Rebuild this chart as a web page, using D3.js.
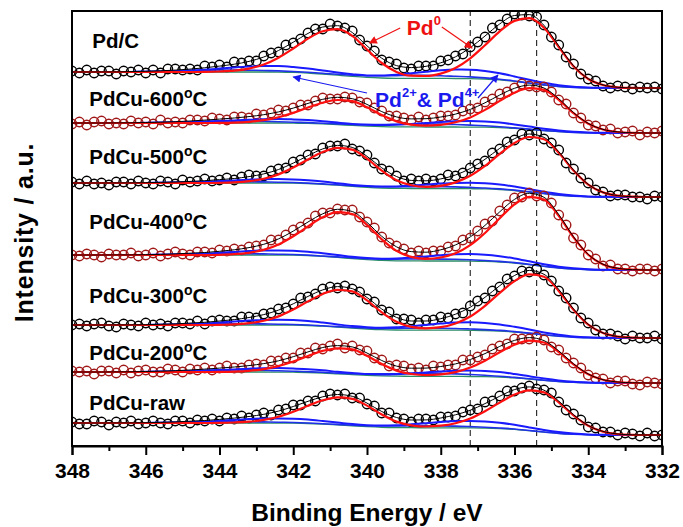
<!DOCTYPE html>
<html>
<head>
<meta charset="utf-8">
<script src="https://cdn.jsdelivr.net/npm/d3@7"></script>
<style>
  body { margin: 0; background: #fff; }
  text { font-family: Arial, "Liberation Sans", Helvetica, sans-serif; font-weight: bold; }
</style>
</head>
<body>
<svg id="chart" width="683" height="527"></svg>
<script>
// Pd 3d XPS spectra: measured counts every 0.2 eV, fitted components every 0.4 eV (348 -> 332 eV)
const energyStart = 348, energyEnd = 332;
const pointStep = 0.2, fitStep = 0.4;

const sampleNames = ["Pd/C", "PdCu-600", "PdCu-500", "PdCu-400", "PdCu-300", "PdCu-200", "PdCu-raw"];
const sampleHasDegree = [false, true, true, true, true, true, false];

// measured intensity (a.u., stacked)
const countsPdC = [375,373,376,373,375,375,372,375,374,376,373,376,373,377,377,376,377,376,380,379,381,379,384,383,385,385,390,393,394,401,403,407,413,417,417,422,420,418,415,406,400,395,386,384,382,378,377,380,380,380,385,386,390,392,399,404,409,418,421,427,432,431,430,429,421,409,401,389,382,372,367,365,360,358,360,359,357,359,358,359,357];
const counts600 = [322,324,321,324,325,322,323,322,325,323,324,322,326,323,324,323,326,326,325,328,327,326,329,329,328,332,331,333,336,335,338,341,341,345,348,347,347,349,348,344,343,338,335,330,330,328,326,329,326,328,330,330,331,335,337,338,344,347,352,354,358,362,360,359,359,354,346,342,333,328,321,320,316,317,313,314,315,311,314,313,315];
const counts500 = [264,262,265,262,263,261,264,264,262,265,263,262,265,264,262,266,264,265,267,265,266,268,266,269,271,270,270,275,277,278,284,286,291,292,298,300,300,302,297,295,291,283,277,275,270,265,267,265,267,265,267,271,270,273,278,282,285,293,297,304,306,312,311,313,307,303,296,283,277,268,263,256,254,250,251,251,249,249,247,250,249];
const counts400 = [191,190,192,191,189,192,191,191,193,190,191,193,190,192,194,192,191,194,194,193,196,195,197,196,199,200,201,206,206,211,216,219,223,230,233,233,237,236,236,229,224,218,209,203,200,197,193,195,193,195,195,199,200,206,208,215,222,225,235,241,248,249,253,250,250,243,231,221,208,201,191,187,180,181,177,177,175,177,177,175,177];
const counts300 = [121,122,120,122,123,120,119,122,121,120,123,121,122,120,123,123,122,125,122,125,126,125,125,129,129,128,132,133,137,138,142,148,149,152,157,159,158,160,157,154,147,144,136,134,127,127,126,123,126,126,129,128,132,133,140,145,148,155,159,167,170,175,174,177,171,165,155,148,138,128,123,116,112,112,110,107,110,108,108,110,107];
const counts200 = [75,74,75,72,75,75,73,76,73,75,76,74,74,77,76,74,77,76,78,76,78,80,78,78,81,82,81,85,85,88,88,93,93,98,97,100,102,98,100,96,95,88,86,80,81,80,77,78,76,80,79,81,81,86,86,89,91,97,100,102,107,107,107,109,106,99,96,88,83,78,71,68,67,63,65,65,62,61,64,63,62];
const countsRaw = [24,22,22,25,24,21,24,23,25,22,23,25,23,22,25,25,23,26,25,27,25,28,27,30,28,31,33,31,36,37,41,41,45,45,50,52,51,52,48,48,42,40,33,33,28,27,24,27,27,26,29,29,30,34,36,37,44,45,50,55,55,58,60,57,56,53,44,36,32,26,19,18,14,14,11,13,12,10,13,10,11];

// Shirley background
const basePdC = [374,374,374,374,374,374,374,374,374,374,374,374,374.0,374.0,373.9,373.6,373.0,372.0,370.8,369.6,368.6,368.0,367.7,367.6,367.6,367.6,367.5,367.4,367.0,366.1,364.6,362.8,361.0,359.5,358.6,358.2,358.1,358,358,358,358];
const base600 = [323,323,323,323,323,323,323,323,323,323,323,323,323,323.0,323.0,322.8,322.6,322.1,321.4,320.6,319.9,319.4,319.2,319.1,319.0,319.0,319.0,318.9,318.8,318.4,317.6,316.6,315.4,314.4,313.6,313.2,313.1,313.0,313,313,313];
const base500 = [263,263,263,263,263,263,263,263,263,263,263,263,263,263.0,262.9,262.8,262.4,261.7,260.8,259.6,258.7,258.0,257.6,257.5,257.4,257.4,257.4,257.3,257.1,256.5,255.5,254.0,252.4,250.9,249.9,249.3,249.1,249.0,249,249,249];
const base400 = [191,191,191,191,191,191,191,191,191,191,191,191,191,191.0,190.9,190.8,190.4,189.6,188.6,187.4,186.4,185.6,185.2,185.1,185.0,185.0,185.0,184.9,184.6,184.0,183.0,181.4,179.6,178.0,177.0,176.4,176.1,176.0,176,176,176];
const base300 = [121,121,121,121,121,121,121,121,121,121,121,121,121,121.0,120.9,120.8,120.5,119.8,118.9,117.9,117.0,116.3,116.0,115.9,115.8,115.8,115.8,115.7,115.5,115.0,114.0,112.7,111.1,109.8,108.8,108.3,108.1,108.0,108,108,108];
const base200 = [74,74,74,74,74,74,74,74,74,74,74,74,74,74.0,73.9,73.8,73.5,73.0,72.2,71.4,70.6,70.1,69.8,69.7,69.6,69.6,69.6,69.5,69.3,68.9,68.1,67.0,65.7,64.5,63.7,63.3,63.1,63.0,63,63,63];
const baseRaw = [23,23,23,23,23,23,23,23,23,23,23,23,23,23.0,22.9,22.8,22.5,21.9,21.1,20.1,19.3,18.7,18.4,18.3,18.2,18.2,18.2,18.1,17.9,17.4,16.6,15.3,13.9,12.6,11.8,11.3,11.1,11.0,11,11,11];

// Pd0 doublet (3d5/2 + 3d3/2) above background
const pd0PdC = [0,0,0,0,0,0,0,0,0,0.1,0.5,1.3,3.4,7.5,14.4,23.9,34.4,42.8,46.0,40.6,27.9,15.0,6.4,2.7,2.4,4.8,10.6,20.3,33.8,48.6,60.5,65.0,57.3,39.5,21.1,8.8,2.9,0.7,0.1,0,0];
const pd0600 = [0,0,0,0,0,0,0,0,0,0,0.1,0.4,1.2,2.8,5.8,10.3,15.9,21.2,24.6,24.2,18.9,11.5,5.4,2.2,1.3,2.1,4.7,9.7,17.3,26.7,35.7,41.2,40.7,31.7,19.2,9.1,3.4,1.0,0.2,0,0];
const pd0500 = [0,0,0,0,0,0,0,0,0,0,0.2,0.6,1.8,4.2,8.7,15.6,24.1,32.3,37.3,36.8,28.7,17.4,8.2,3.3,1.8,2.8,6.2,12.9,23.0,35.6,47.5,55.0,54.3,42.3,25.6,12.1,4.5,1.3,0.3,0,0];
const pd0400 = [0,0,0,0,0,0,0,0,0,0,0.2,0.8,2.2,5.1,10.6,18.9,29.2,39.1,45.2,44.6,34.7,21.1,9.9,4.0,2.2,3.5,7.7,15.9,28.4,43.8,58.6,67.8,66.9,52.1,31.6,14.9,5.5,1.6,0.3,0,0];
const pd0300 = [0,0,0,0,0,0,0,0,0,0,0.2,0.6,1.8,4.2,8.7,15.6,24.1,32.3,37.3,36.8,28.7,17.4,8.2,3.3,1.9,3.0,6.7,13.8,24.7,38.1,50.9,58.9,58.1,45.3,27.5,13.0,4.8,1.4,0.3,0,0];
const pd0200 = [0,0,0,0,0,0,0,0,0,0,0.1,0.4,1.2,2.9,6.0,10.7,16.5,22.1,25.5,25.2,19.6,11.9,5.6,2.3,1.3,2.0,4.3,9.0,16.0,24.8,33.1,38.3,37.8,29.4,17.9,8.4,3.1,0.9,0.2,0,0];
const pd0Raw = [0,0,0,0,0,0,0,0,0,0,0.1,0.5,1.3,3.1,6.4,11.5,17.8,23.8,27.5,27.1,21.1,12.8,6.0,2.4,1.3,2.1,4.6,9.4,16.9,26.0,34.8,40.3,39.7,31.0,18.8,8.9,3.3,0.9,0.2,0,0];

// Pd2+ doublet above background
const pd2PdC = [0,0,0,0,0.1,0.2,0.4,0.8,1.4,2.3,3.4,4.5,5.4,6.0,6.0,5.4,4.5,3.5,2.6,2.1,2.0,2.6,3.6,5.1,6.7,8.1,8.9,8.9,8.1,6.7,5.0,3.4,2.2,1.2,0.6,0.3,0.1,0,0,0,0];
const pd2600 = [0,0,0,0,0,0.1,0.2,0.4,0.7,1.2,1.9,2.6,3.3,3.8,4.0,3.8,3.3,2.7,2.0,1.5,1.3,1.5,2.0,2.9,4.0,5.0,5.7,6.0,5.7,5.0,3.9,2.8,1.8,1.1,0.6,0.3,0.1,0.1,0,0,0];
const pd2500 = [0,0,0,0,0,0.1,0.2,0.4,0.7,1.2,1.9,2.6,3.3,3.8,4.0,3.8,3.3,2.7,2.0,1.5,1.3,1.5,2.0,2.9,4.0,5.0,5.7,6.0,5.7,5.0,3.9,2.8,1.8,1.1,0.6,0.3,0.1,0.1,0,0,0];
const pd2400 = [0,0,0,0,0,0.1,0.2,0.5,0.9,1.4,2.2,3.1,3.9,4.5,4.7,4.5,3.9,3.1,2.4,1.8,1.5,1.7,2.4,3.4,4.6,5.8,6.7,7.0,6.7,5.8,4.6,3.3,2.1,1.3,0.7,0.3,0.2,0.1,0,0,0];
const pd2300 = [0,0,0,0,0,0.1,0.3,0.5,1.0,1.6,2.5,3.5,4.4,5.1,5.4,5.1,4.5,3.6,2.7,2.0,1.8,2.0,2.7,3.9,5.3,6.6,7.6,8.0,7.6,6.6,5.2,3.8,2.4,1.5,0.8,0.4,0.2,0.1,0,0,0];
const pd2200 = [0,0,0,0,0,0.1,0.2,0.4,0.7,1.2,1.9,2.6,3.3,3.8,4.0,3.8,3.3,2.7,2.0,1.5,1.3,1.5,2.0,2.9,4.0,5.0,5.7,6.0,5.7,5.0,3.9,2.8,1.8,1.1,0.6,0.3,0.1,0.1,0,0,0];
const pd2Raw = [0,0,0,0,0,0.1,0.2,0.5,0.9,1.4,2.2,3.1,3.9,4.5,4.7,4.5,3.9,3.1,2.4,1.8,1.5,1.7,2.4,3.4,4.6,5.8,6.7,7.0,6.7,5.8,4.6,3.3,2.1,1.3,0.7,0.3,0.2,0.1,0,0,0];

// Pd4+ doublet above background
const pd4PdC = [0,0,0.1,0.1,0.3,0.5,0.8,1.1,1.5,1.8,2.0,2.0,1.8,1.5,1.2,0.9,0.7,0.7,0.9,1.2,1.7,2.2,2.7,3.0,3.0,2.7,2.2,1.7,1.1,0.7,0.4,0.2,0.1,0,0,0,0,0,0,0,0];
const pd4600 = [0,0,0,0.1,0.2,0.4,0.6,0.9,1.3,1.7,1.9,2.0,1.9,1.7,1.3,1.0,0.8,0.7,0.7,1.0,1.5,2.0,2.5,2.9,3.0,2.9,2.5,2.0,1.4,0.9,0.5,0.3,0.1,0.1,0,0,0,0,0,0,0];
const pd4500 = [0,0,0,0.1,0.1,0.2,0.4,0.6,0.9,1.1,1.3,1.3,1.3,1.1,0.9,0.7,0.5,0.4,0.5,0.7,1.0,1.3,1.7,1.9,2.0,1.9,1.7,1.3,0.9,0.6,0.4,0.2,0.1,0,0,0,0,0,0,0,0];
const pd4400 = [0,0,0,0.1,0.1,0.2,0.4,0.6,0.9,1.1,1.3,1.3,1.3,1.1,0.9,0.7,0.5,0.4,0.5,0.7,1.0,1.3,1.7,1.9,2.0,1.9,1.7,1.3,0.9,0.6,0.4,0.2,0.1,0,0,0,0,0,0,0,0];
const pd4300 = [0,0,0,0.1,0.1,0.2,0.4,0.6,0.9,1.1,1.3,1.3,1.3,1.1,0.9,0.7,0.5,0.4,0.5,0.7,1.0,1.3,1.7,1.9,2.0,1.9,1.7,1.3,0.9,0.6,0.4,0.2,0.1,0,0,0,0,0,0,0,0];
const pd4200 = [0,0,0,0.1,0.2,0.4,0.6,0.9,1.3,1.7,1.9,2.0,1.9,1.7,1.3,1.0,0.8,0.7,0.7,1.0,1.5,2.0,2.5,2.9,3.0,2.9,2.5,2.0,1.4,0.9,0.5,0.3,0.1,0.1,0,0,0,0,0,0,0];
const pd4Raw = [0,0,0,0.1,0.1,0.2,0.4,0.6,0.9,1.1,1.3,1.3,1.3,1.1,0.9,0.7,0.5,0.4,0.5,0.7,1.0,1.3,1.7,1.9,2.0,1.9,1.7,1.3,0.9,0.6,0.4,0.2,0.1,0,0,0,0,0,0,0,0];

// reference binding energies marked with dashed lines
const referenceEnergies = [337.2, 335.4];
const majorTicks = [348, 346, 344, 342, 340, 338, 336, 334, 332];
const minorTicks = [347, 345, 343, 341, 339, 337, 335, 333];

const counts = [countsPdC, counts600, counts500, counts400, counts300, counts200, countsRaw];
const baselines = [basePdC, base600, base500, base400, base300, base200, baseRaw];
const pd0 = [pd0PdC, pd0600, pd0500, pd0400, pd0300, pd0200, pd0Raw];
const pd2 = [pd2PdC, pd2600, pd2500, pd2400, pd2300, pd2200, pd2Raw];
const pd4 = [pd4PdC, pd4600, pd4500, pd4400, pd4300, pd4200, pd4Raw];

// layout
const W = 683, H = 527;
const plot = { left: 72, right: 662, top: 11, bottom: 446 };
const pointColors = ["#000000", "#a01818", "#000000", "#a01818", "#000000", "#a01818", "#000000"];
const labelPos = [[347.45, 398], [347.53, 340], [347.53, 282], [347.53, 217], [347.53, 143], [347.53, 86], [347.53, 36]];

const x = d3.scaleLinear().domain([energyStart, energyEnd]).range([plot.left, plot.right]);
const y = d3.scaleLinear().domain([0, 435]).range([plot.bottom, plot.top]);

const svg = d3.select("#chart");
svg.append("rect").attr("width", W).attr("height", H).attr("fill", "#fff");

const defs = svg.append("defs");
defs.append("clipPath").attr("id", "plotClip")
  .append("rect").attr("x", plot.left).attr("y", plot.top)
  .attr("width", plot.right - plot.left).attr("height", plot.bottom - plot.top);

function arrowMarker(id, color) {
  defs.append("marker").attr("id", id)
    .attr("viewBox", "0 0 10 10").attr("refX", 9).attr("refY", 5)
    .attr("markerWidth", 9).attr("markerHeight", 8)
    .attr("markerUnits", "userSpaceOnUse").attr("orient", "auto")
    .append("path").attr("d", "M0,0 L10,5 L0,10 Z").attr("fill", color);
}
arrowMarker("arrowRed", "#ee1111");
arrowMarker("arrowBlue", "#1a1aee");

const g = svg.append("g").attr("clip-path", "url(#plotClip)");

// dashed reference lines
g.selectAll("line.ref").data(referenceEnergies).join("line")
  .attr("class", "ref")
  .attr("x1", d => x(d)).attr("x2", d => x(d))
  .attr("y1", y(0)).attr("y2", y(435))
  .attr("stroke", "#222").attr("stroke-width", 1.1).attr("stroke-dasharray", "6,4");

const pointEnergy = i => energyStart - pointStep * i;
const fitEnergy = i => energyStart - fitStep * i;

const fitLine = d3.line().x(d => x(d[0])).y(d => y(d[1])).curve(d3.curveMonotoneX);

counts.forEach((series, s) => {
  const base = baselines[s];
  const layer = g.append("g");

  // measured points
  layer.selectAll("circle").data(series).join("circle")
    .attr("cx", (d, i) => x(pointEnergy(i)))
    .attr("cy", d => y(d))
    .attr("r", 4.7)
    .attr("fill", "none")
    .attr("stroke", pointColors[s])
    .attr("stroke-width", 1.4);

  const bgPts = base.map((b, i) => [fitEnergy(i), b]);
  const pd2Pts = base.map((b, i) => [fitEnergy(i), b + pd2[s][i]]);
  const pd4Pts = base.map((b, i) => [fitEnergy(i), b + pd4[s][i]]);
  const pd0Pts = base.map((b, i) => [fitEnergy(i), b + pd0[s][i]]);
  const envPts = base.map((b, i) => [fitEnergy(i), b + pd0[s][i] + pd2[s][i] + pd4[s][i]]);

  layer.append("path").attr("d", fitLine(bgPts))
    .attr("fill", "none").attr("stroke", "#2b8c6a").attr("stroke-width", 1.3);
  layer.append("path").attr("d", fitLine(pd4Pts))
    .attr("fill", "none").attr("stroke", "#2030e8").attr("stroke-width", 1.6);
  layer.append("path").attr("d", fitLine(pd2Pts))
    .attr("fill", "none").attr("stroke", "#1a1aff").attr("stroke-width", 2);
  layer.append("path").attr("d", fitLine(pd0Pts))
    .attr("fill", "none").attr("stroke", "#ff1010").attr("stroke-width", 2.2);
  layer.append("path").attr("d", fitLine(envPts))
    .attr("fill", "none").attr("stroke", "#000").attr("stroke-width", 1);
});

// sample labels
sampleNames.forEach((name, s) => {
  const t = svg.append("text")
    .attr("x", x(labelPos[s][0])).attr("y", y(labelPos[s][1]))
    .style("font-size", "20.5px").attr("fill", "#000");
  t.append("tspan").text(name);
  if (sampleHasDegree[s]) {
    t.append("tspan").text("o").style("font-size", "14px").attr("dy", -8);
    t.append("tspan").text("C").attr("dy", 8);
  }
});

// component annotations
const pd0Label = svg.append("text")
  .attr("x", x(338.92)).attr("y", y(411))
  .style("font-size", "21px").attr("fill", "#ee1111");
pd0Label.append("tspan").text("Pd");
pd0Label.append("tspan").text("0").style("font-size", "13px").attr("dy", -10);

const oxLabel = svg.append("text")
  .attr("x", x(339.78)).attr("y", y(339))
  .style("font-size", "21px").attr("fill", "#1a1aee");
oxLabel.append("tspan").text("Pd");
oxLabel.append("tspan").text("2+").style("font-size", "13px").attr("dy", -10);
oxLabel.append("tspan").text("& Pd").attr("dy", 10);
oxLabel.append("tspan").text("4+").style("font-size", "13px").attr("dy", -10);

const arrows = [
  { from: [339.10, 418], to: [339.93, 403], color: "#ee1111", marker: "arrowRed" },
  { from: [337.97, 419], to: [337.15, 398], color: "#ee1111", marker: "arrowRed" },
  { from: [340.00, 353], to: [342.00, 369], color: "#1a1aee", marker: "arrowBlue" },
  { from: [336.99, 348], to: [336.45, 371], color: "#1a1aee", marker: "arrowBlue" }
];
svg.selectAll("line.arrow").data(arrows).join("line")
  .attr("class", "arrow")
  .attr("x1", d => x(d.from[0])).attr("y1", d => y(d.from[1]))
  .attr("x2", d => x(d.to[0])).attr("y2", d => y(d.to[1]))
  .attr("stroke", d => d.color).attr("stroke-width", 1.2)
  .attr("marker-end", d => `url(#${d.marker})`);

// frame
svg.append("rect")
  .attr("x", plot.left).attr("y", plot.top)
  .attr("width", plot.right - plot.left).attr("height", plot.bottom - plot.top)
  .attr("fill", "none").attr("stroke", "#000").attr("stroke-width", 2);

// bottom axis: major ticks with labels, minor ticks without
const axisMajor = svg.append("g").attr("transform", `translate(0,${plot.bottom})`)
  .call(d3.axisBottom(x).tickValues(majorTicks).tickSize(9).tickPadding(8).tickFormat(d3.format("d")));
axisMajor.select(".domain").attr("stroke-width", 2);
axisMajor.selectAll(".tick line").attr("stroke-width", 2);
axisMajor.selectAll(".tick text")
  .style("font-size", "21px").style("font-family", "Arial, 'Liberation Sans', sans-serif")
  .style("font-weight", "bold").attr("fill", "#000");

const axisMinor = svg.append("g").attr("transform", `translate(0,${plot.bottom})`)
  .call(d3.axisBottom(x).tickValues(minorTicks).tickSize(5).tickFormat(""));
axisMinor.select(".domain").remove();
axisMinor.selectAll(".tick line").attr("stroke-width", 2);

// axis titles
svg.append("text")
  .attr("x", (plot.left + plot.right) / 2).attr("y", 521)
  .attr("text-anchor", "middle").style("font-size", "24.5px")
  .text("Binding Energy / eV");

svg.append("text")
  .attr("transform", `translate(33,${(plot.top + plot.bottom) / 2 + 4}) rotate(-90)`)
  .attr("text-anchor", "middle").style("font-size", "25px").style("letter-spacing", "0.8px")
  .text("Intensity / a.u.");
</script>
</body>
</html>
